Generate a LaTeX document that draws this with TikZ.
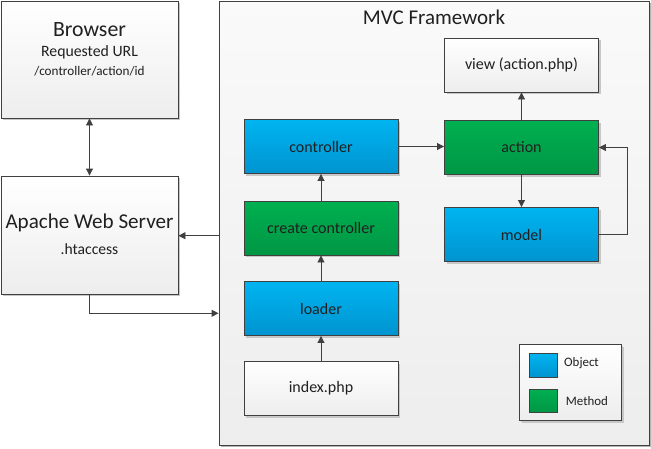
\documentclass[tikz,border=0pt]{standalone}
\usepackage{fontspec}
\setmainfont{Carlito}
\usetikzlibrary{arrows.meta,shadows,calc}
\definecolor{edge}{HTML}{404040}
\definecolor{txt}{HTML}{202020}
\definecolor{bluetop}{HTML}{00B4F0}
\definecolor{bluebot}{HTML}{0094D0}
\definecolor{greentop}{HTML}{00B050}
\definecolor{greenbot}{HTML}{009644}
\tikzset{
  boxbase/.style={draw=edge, line width=0.9pt, rectangle, inner sep=0pt, text=txt,
    drop shadow={shadow xshift=2pt, shadow yshift=-2pt, fill=black!22, opacity=1}},
  whitebox/.style={boxbase, top color=white, bottom color=black!7},
  bluebox/.style={boxbase, top color=bluetop, bottom color=bluebot},
  greenbox/.style={boxbase, top color=greentop, bottom color=greenbot},
  midbox/.style={minimum width=154pt, minimum height=54pt, font=\fontsize{16}{18}\selectfont},
  conn/.style={draw=edge, line width=0.9pt, -{Triangle[length=7pt,width=7pt]}},
  conn2/.style={draw=edge, line width=0.9pt, {Triangle[length=7pt,width=7pt]}-{Triangle[length=7pt,width=7pt]}}
}
\begin{document}
\begin{tikzpicture}[x=1pt,y=-1pt]
\useasboundingbox (0,0) rectangle (651,448);
% frame
\node[boxbase, top color=black!2, bottom color=black!7, minimum width=430pt, minimum height=444pt,
  drop shadow={shadow xshift=1.5pt, shadow yshift=-1.5pt, fill=black!30, opacity=1}] (frame) at (434,223) {};
\node[text=txt, font=\fontsize{21}{23}\selectfont] (title) at (434,17) {MVC Framework};
% left boxes
\node[whitebox, minimum width=177pt, minimum height=117pt] (browser) at (89.5,59.5) {};
\node[text=txt, font=\fontsize{21.8}{24}\selectfont] (btitle) at (89.5,29.5) {Browser};
\node[text=txt, font=\fontsize{15.8}{18}\selectfont] (burl) at (89.5,52) {Requested URL};
\node[text=txt, font=\fontsize{13.2}{15}\selectfont] (bpath) at (89.5,71.5) {/controller/action/id};
\node[whitebox, minimum width=177pt, minimum height=118pt] (apache) at (89.5,235) {};
\node[text=txt, font=\fontsize{21.1}{23}\selectfont] (atitle) at (89.5,222.5) {Apache Web Server};
\node[text=txt, font=\fontsize{15.6}{17}\selectfont] (ahta) at (89.5,249) {.htaccess};
% middle column
\node[bluebox, midbox] (controller) at (321,146.5) {controller};
\node[greenbox, midbox] (create) at (321,228) {create controller};
\node[bluebox, midbox] (loader) at (321,308.5) {loader};
\node[whitebox, midbox] (index) at (321,388.7) {index.php};
% right column
\node[whitebox, midbox] (view) at (521.5,65) {view (action.php)};
\node[greenbox, midbox] (action) at (521.5,147.5) {action};
\node[bluebox, midbox] (model) at (521.5,234.5) {model};
% legend
\node[whitebox, minimum width=102pt, minimum height=76pt,
  drop shadow={shadow xshift=1.5pt, shadow yshift=-1.5pt, fill=black!22, opacity=1}] (legend) at (570.5,382.5) {};
\node[draw=edge, line width=0.9pt, top color=bluetop, bottom color=bluebot, minimum width=28pt, minimum height=24pt, inner sep=0pt] (objsw) at (543.3,365.3) {};
\node[draw=edge, line width=0.9pt, top color=greentop, bottom color=greenbot, minimum width=28pt, minimum height=23pt, inner sep=0pt] (methsw) at (543.3,400.8) {};
\node[anchor=west, text=txt, font=\fontsize{12.9}{15}\selectfont, inner sep=0pt] (objt) at (564,363.5) {Object};
\node[anchor=west, text=txt, font=\fontsize{12.9}{15}\selectfont, inner sep=0pt] (metht) at (565.7,401) {Method};
% connectors
\draw[conn2] (browser.south) -- (apache.north);
\draw[conn] (frame.west |- 0,235.7) -- (apache.east |- 0,235.7);
\coordinate (fin) at (frame.west |- 0,313.3);
\draw[conn] (apache.south) |- (fin);
\draw[conn] (index.north) -- (loader.south);
\draw[conn] (loader.north) -- (create.south);
\draw[conn] (create.north) -- (controller.south);
\draw[conn] (controller.east) -- (action.west |- controller.east);
\draw[conn] (action.north) -- (view.south);
\draw[conn] (action.south) -- (model.north);
\coordinate (loop) at (627.3,234.5);
\draw[conn] (model.east) -- (loop) |- (action.east);
\end{tikzpicture}
\end{document}
